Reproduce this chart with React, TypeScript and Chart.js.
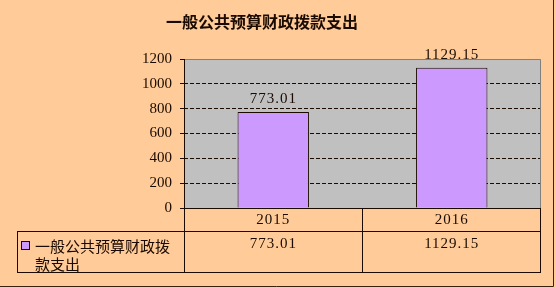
import React, { useEffect, useRef } from 'react';
import { Chart, registerables } from 'chart.js';

Chart.register(...registerables);

const chartTitle = '一般公共预算财政拨款支出';
const seriesName = '一般公共预算财政拨款支出';
const categories = ['2015', '2016'];
const values = [773.01, 1129.15];
const yMin = 0;
const yMax = 1200;
const yStep = 200;

const WIDTH = 556;
const HEIGHT = 288;
const PAGE_BG = '#FFCC99';
const PLOT_BG = '#C0C0C0';
const BAR_FILL = '#CC99FF';
const INK = '#1a0a00';
const NUM_FONT = '15px "Liberation Serif", serif';
const CJK_FONT = '"Noto Sans CJK SC", sans-serif';

const fmt = (v: number) => v.toFixed(2);

// Background, plot fill, frame, title, value labels and the data table underneath.
const decorPlugin = {
  id: 'decor',
  beforeDraw(chart: any) {
    const { ctx, chartArea: a } = chart;
    ctx.save();
    ctx.fillStyle = PAGE_BG;
    ctx.fillRect(0, 0, chart.width, chart.height);
    ctx.fillStyle = PLOT_BG;
    ctx.fillRect(a.left, a.top, a.right - a.left, a.bottom - a.top);
    ctx.restore();
  },
  afterDraw(chart: any) {
    const { ctx, chartArea: a } = chart;
    const xs = chart.scales.x;
    const n = categories.length;
    const colW = (a.right - a.left) / n;
    const tableLeft = 17;
    const row1Bottom = a.bottom + 23;
    const row2Bottom = a.bottom + 64;

    ctx.save();
    // plot frame: grey top/right, dark axis on the left
    ctx.lineWidth = 1;
    ctx.strokeStyle = '#808080';
    ctx.beginPath();
    ctx.moveTo(a.left, a.top + 0.5);
    ctx.lineTo(a.right - 0.5, a.top + 0.5);
    ctx.lineTo(a.right - 0.5, a.bottom);
    ctx.stroke();

    ctx.strokeStyle = INK;
    ctx.beginPath();
    // vertical axis line running down through the table
    ctx.moveTo(a.left + 0.5, a.top);
    ctx.lineTo(a.left + 0.5, row2Bottom);
    // table horizontal rules
    ctx.moveTo(a.left, a.bottom + 0.5);
    ctx.lineTo(a.right, a.bottom + 0.5);
    ctx.moveTo(tableLeft, row1Bottom + 0.5);
    ctx.lineTo(a.right, row1Bottom + 0.5);
    ctx.moveTo(tableLeft, row2Bottom + 0.5);
    ctx.lineTo(a.right, row2Bottom + 0.5);
    // table verticals
    ctx.moveTo(tableLeft + 0.5, row1Bottom);
    ctx.lineTo(tableLeft + 0.5, row2Bottom);
    for (let i = 1; i <= n; i++) {
      const x = Math.round(a.left + colW * i) - 0.5;
      ctx.moveTo(x, a.bottom);
      ctx.lineTo(x, row2Bottom);
    }
    ctx.stroke();

    // outer frame shadow on the right and bottom
    ctx.strokeStyle = '#3a2010';
    ctx.beginPath();
    ctx.moveTo(WIDTH - 2.5, 0);
    ctx.lineTo(WIDTH - 2.5, HEIGHT - 1.5);
    ctx.lineTo(0, HEIGHT - 1.5);
    ctx.stroke();

    // title
    ctx.fillStyle = INK;
    ctx.font = `bold 16px ${CJK_FONT}`;
    ctx.textAlign = 'center';
    ctx.textBaseline = 'middle';
    ctx.fillText(chartTitle, 262, 22);

    // value labels above the bars
    ctx.font = NUM_FONT;
    (ctx as any).letterSpacing = '1px';
    const meta = chart.getDatasetMeta(0);
    meta.data.forEach((bar: any, i: number) => {
      ctx.fillText(fmt(values[i]), bar.x, bar.y - 13);
    });

    // category row and value row of the table
    categories.forEach((c, i) => {
      const cx = xs.getPixelForValue(i);
      ctx.fillText(c, cx, a.bottom + 12);
      ctx.fillText(fmt(values[i]), cx, row1Bottom + 13);
    });
    (ctx as any).letterSpacing = '0px';

    // legend key and wrapped series name
    ctx.fillStyle = BAR_FILL;
    ctx.fillRect(21, row1Bottom + 10, 9, 9);
    ctx.strokeStyle = INK;
    ctx.strokeRect(21.5, row1Bottom + 10.5, 8, 8);

    ctx.fillStyle = INK;
    ctx.font = `15px ${CJK_FONT}`;
    ctx.textAlign = 'left';
    const textLeft = 35;
    const maxW = a.left - textLeft - 2;
    const lines: string[] = [];
    let cur = '';
    for (const ch of seriesName) {
      if (ctx.measureText(cur + ch).width > maxW && cur) {
        lines.push(cur);
        cur = ch;
      } else {
        cur += ch;
      }
    }
    if (cur) lines.push(cur);
    lines.forEach((ln, k) => ctx.fillText(ln, textLeft, row1Bottom + 15 + k * 18));
    ctx.restore();
  },
};

export default function App() {
  const canvasRef = useRef<HTMLCanvasElement | null>(null);

  useEffect(() => {
    document.body.style.margin = '0';
    const canvas = canvasRef.current;
    if (!canvas) return;
    const chart = new Chart(canvas, {
      type: 'bar',
      data: {
        labels: categories,
        datasets: [
          {
            label: seriesName,
            data: values,
            backgroundColor: BAR_FILL,
            borderColor: INK,
            borderWidth: 1,
            barPercentage: 0.4,
            categoryPercentage: 1,
          },
        ],
      },
      options: {
        responsive: false,
        animation: false,
        devicePixelRatio: 1,
        layout: { padding: { left: 0, right: 15, top: 59, bottom: 80 } },
        plugins: {
          legend: { display: false },
          title: { display: false },
          tooltip: { enabled: false },
        },
        scales: {
          x: { display: false },
          y: {
            min: yMin,
            max: yMax,
            ticks: {
              stepSize: yStep,
              color: INK,
              font: { family: '"Liberation Serif", serif', size: 15 },
              padding: 8,
              callback: (v: any) => String(v),
            },
            grid: {
              color: (ctx: any) =>
                ctx.tick && (ctx.tick.value === yMin || ctx.tick.value === yMax) ? 'rgba(0,0,0,0)' : INK,
              lineWidth: 1,
              tickLength: 4,
              tickColor: INK,
              tickBorderDash: [],
            },
            border: { display: false, dash: [4, 2] },
            afterFit: (axis: any) => {
              axis.width = 184;
            },
          },
        },
      },
      plugins: [decorPlugin],
    });
    return () => chart.destroy();
  }, []);

  return <canvas ref={canvasRef} width={WIDTH} height={HEIGHT} style={{ display: 'block' }} />;
}
